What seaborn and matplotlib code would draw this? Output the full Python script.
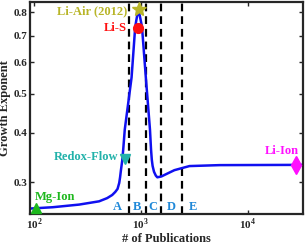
import numpy as np
import pandas as pd
import matplotlib
matplotlib.use('Agg')
import matplotlib.pyplot as plt
import seaborn as sns

# ── data ───────────────────────────────────────────────────────────────────
PUBS = [92, 150, 265, 407, 484, 540, 577, 606, 628, 640, 652, 670, 685, 708, 820, 887, 927, 948,
        979, 1026, 1119, 1219, 1247, 1268, 1290, 1330, 1383, 1429, 1558, 1698, 2064, 2853, 5460, 32800]
EXPS = [0.258, 0.260, 0.264, 0.269, 0.274, 0.279, 0.284, 0.289, 0.299, 0.309, 0.322, 0.340,
        0.363, 0.407, 0.550, 0.737, 0.789, 0.81,
        0.785, 0.737, 0.543, 0.407, 0.363, 0.342, 0.330, 0.319, 0.312, 0.309, 0.3105, 0.314,
        0.322, 0.3297, 0.3315, 0.332]

TECH_NAMES  = ['Mg-Ion', 'Redox-Flow', 'Li-S', 'Li-Air (2012)', 'Li-Ion']
TECH_PUBS   = [104, 711, 950, 968, 28200]
TECH_EXPS   = [0.259, 0.344, 0.73, 0.814, 0.331]
TECH_COLORS = ['#1db81d', '#22b2aa', '#ff1010', '#b8b528', '#ff10ff']
TECH_MARKERS = ['^', 'v', 'o', '*', 'd']

REGION_BOUNDS = [771, 1114, 1530, 2410]
REGION_LABELS = ['A', 'B', 'C', 'D', 'E']
REGION_X      = [601, 927, 1297, 1933, 3050]
REGION_Y      = 0.261

# ── style ──────────────────────────────────────────────────────────────────
sns.set_style('ticks')
plt.rcParams['font.family'] = ['Liberation Serif', 'DejaVu Serif']
plt.rcParams['font.weight'] = 'bold'
plt.rcParams['mathtext.fontset'] = 'custom'
plt.rcParams['mathtext.rm'] = 'Liberation Serif'

fig = plt.figure(figsize=(3.07, 2.46), dpi=100)
ax = fig.add_axes([0.098, 0.13, 0.889, 0.862])

curve = pd.DataFrame({'pubs': PUBS, 'exp': EXPS})
sns.lineplot(data=curve, x='pubs', y='exp', sort=False, estimator=None,
             color='#1010f0', linewidth=1.8, ax=ax)

ax.set_xscale('log')
ax.set_yscale('log')
ax.set_xlim(92, 33000)
ax.set_ylim(0.25, 0.85)

for xb in REGION_BOUNDS:
    ax.axvline(xb, color='black', linewidth=1.6, linestyle=(0, (3.5, 2.2)), zorder=1)

for lab, xl in zip(REGION_LABELS, REGION_X):
    ax.text(xl, REGION_Y, lab, color='#1f88d8', fontsize=9, fontweight='bold',
            ha='center', va='center')

# technology markers + names
offsets = {
    'Mg-Ion':        ((-1, 8), 'left'),
    'Redox-Flow':    ((-5, 1.5), 'right'),
    'Li-S':          ((-8, 0), 'right'),
    'Li-Air (2012)': ((-9, -1), 'right'),
    'Li-Ion':        ((-10, 10), 'center'),
}
for name, xp, yp, col, mk in zip(TECH_NAMES, TECH_PUBS, TECH_EXPS, TECH_COLORS, TECH_MARKERS):
    size = {'*': 10, 'd': 9, 'o': 7, '^': 7.5, 'v': 7.5}[mk]
    ax.plot([xp], [yp], marker=mk, color=col, markersize=size, linestyle='none',
            zorder=5, clip_on=False)
    off, ha = offsets[name]
    ax.annotate(name, (xp, yp), xytext=off, textcoords='offset points',
                color=col, fontsize=9, fontweight='bold', ha=ha, va='center')

# axes cosmetics
ax.set_yticks([0.3, 0.4, 0.5, 0.6, 0.7, 0.8])
ax.set_yticklabels(['0.3', '0.4', '0.5', '0.6', '0.7', '0.8'])
ax.yaxis.set_minor_locator(matplotlib.ticker.NullLocator())
ax.set_xticks([1e2, 1e3, 1e4])
ax.set_xticklabels([r'$10^2$', r'$10^3$', r'$10^4$'])
ax.xaxis.set_minor_locator(matplotlib.ticker.NullLocator())
ax.tick_params(direction='in', length=3, width=1, top=True, right=True, labelsize=8, pad=2)
for lab in ax.get_yticklabels():
    lab.set_fontweight('bold')
for sp in ax.spines.values():
    sp.set_visible(True)
    sp.set_linewidth(1.6)

ax.set_xlabel('# of Publications', fontsize=9, fontweight='bold', labelpad=1)
ax.set_ylabel('Growth Exponent', fontsize=9, fontweight='bold', labelpad=2)

fig.savefig('out.png', dpi=100)
